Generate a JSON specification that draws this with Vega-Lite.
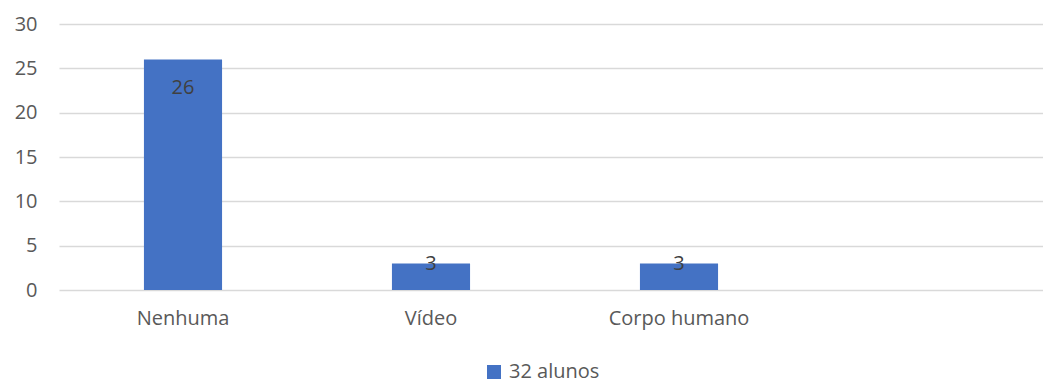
{
  "$schema": "https://vega.github.io/schema/vega-lite/v6.json",
  "autosize": {"type": "none"},
  "padding": {"left": 59, "top": 24, "right": 0, "bottom": 93},
  "width": 992,
  "height": 266,
  "background": "white",
  "config": {
    "view": {"stroke": null},
    "font": "Open Sans",
    "axis": {
      "labelFont": "Open Sans",
      "labelFontSize": 20,
      "labelColor": "#595959",
      "ticks": false,
      "domain": false,
      "title": null,
      "gridColor": "#d9d9d9",
      "gridWidth": 1.5
    }
  },
  "data": {
    "values": [
      {"categoria": "Nenhuma", "n": 26, "serie": "32 alunos"},
      {"categoria": "Vídeo", "n": 3, "serie": "32 alunos"},
      {"categoria": "Corpo humano", "n": 3, "serie": "32 alunos"}
    ]
  },
  "encoding": {
    "x": {
      "field": "categoria",
      "type": "nominal",
      "sort": null,
      "scale": {"domain": ["Nenhuma", "Vídeo", "Corpo humano", " "], "paddingInner": 0.685, "paddingOuter": 0.3425},
      "axis": {"labelAngle": 0, "grid": false, "labelPadding": 18}
    },
    "y": {
      "field": "n",
      "type": "quantitative",
      "scale": {"domain": [0, 30], "nice": false},
      "axis": {"values": [0, 5, 10, 15, 20, 25, 30], "labelPadding": 22, "grid": true}
    }
  },
  "layer": [
    {
      "mark": {"type": "bar", "color": "#4472C4"},
      "encoding": {
        "color": {
          "field": "serie",
          "type": "nominal",
          "scale": {"range": ["#4472C4"]},
          "legend": {
            "title": null,
            "orient": "none",
            "legendX": 425,
            "legendY": 338,
            "padding": 0,
            "symbolType": "square",
            "symbolSize": 196,
            "symbolStrokeWidth": 0,
            "labelFont": "Open Sans",
            "labelFontSize": 20,
            "labelColor": "#595959",
            "labelOffset": 5
          }
        }
      }
    },
    {
      "transform": [{"filter": "datum.n > 5"}],
      "mark": {"type": "text", "baseline": "middle", "dy": 29, "fontSize": 20, "color": "#404040"},
      "encoding": {"text": {"field": "n", "type": "quantitative"}}
    },
    {
      "transform": [{"filter": "datum.n <= 5"}],
      "mark": {"type": "text", "baseline": "middle", "dy": 1, "fontSize": 20, "color": "#404040"},
      "encoding": {"text": {"field": "n", "type": "quantitative"}}
    }
  ]
}
